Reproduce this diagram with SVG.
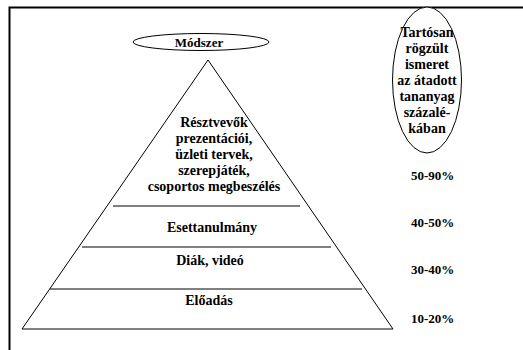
<svg xmlns="http://www.w3.org/2000/svg" width="523" height="350" viewBox="0 0 523 350">
<style>
text{font-family:'Liberation Serif','Times New Roman',Times,serif;font-weight:bold;font-size:14px;fill:#000;text-anchor:middle}
.p{font-size:13px;text-anchor:start}
.ln{stroke:#000;stroke-width:1;fill:none}
.ov{fill:#fff;stroke:#000;stroke-width:1}
</style>
<rect width="523" height="350" fill="#fff"/>
<g id="frame"><path d="M9.5 350V7.5H523" stroke="#000" stroke-width="2" fill="none"/></g>
<g id="pyramid" font-family="Liberation Serif, serif">
<path class="ln" d="M208 60L22 329H393Z"/>
<text x="214" y="127">Résztvevők</text>
<text x="214" y="143">prezentációi,</text>
<text x="214" y="159">üzleti tervek,</text>
<text x="214" y="175">szerepjáték,</text>
<text x="214" y="191">csoportos megbeszélés</text>
</g>
<g id="connectors">
<line class="ln" x1="113" y1="206" x2="300" y2="206"/>
<line class="ln" x1="82" y1="247" x2="331" y2="247"/>
<line class="ln" x1="50" y1="289" x2="362" y2="289"/>
</g>
<g id="esettanulmany"><text x="212" y="232">Esettanulmány</text></g>
<g id="diak"><text x="210" y="265">Diák, videó</text></g>
<g id="eloadas"><text x="209" y="305">Előadás</text></g>
<g id="modszer">
<ellipse class="ov" cx="201" cy="42" rx="68" ry="8.5"/>
<text x="199" y="47" style="font-size:13px">Módszer</text>
</g>
<g id="tartosan">
<ellipse class="ov" cx="427" cy="80" rx="34.5" ry="73"/>
<text x="427" y="37">Tartósan</text>
<text x="427" y="53">rögzült</text>
<text x="427" y="69">ismeret</text>
<text x="427" y="85">az átadott</text>
<text x="427" y="101">tananyag</text>
<text x="427" y="117">százalé-</text>
<text x="427" y="133">kában</text>
</g>
<g id="percents">
<text class="p" x="411" y="180">50-90%</text>
<text class="p" x="411" y="227">40-50%</text>
<text class="p" x="411" y="274">30-40%</text>
<text class="p" x="411" y="323">10-20%</text>
</g>
</svg>
